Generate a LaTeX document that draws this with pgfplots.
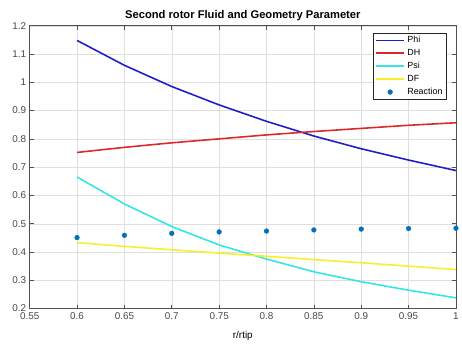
\documentclass[border=0pt]{standalone}
\usepackage{pgfplots}
\pgfplotsset{compat=1.18}
\usepackage{fontspec}
\setmainfont{Liberation Sans}
\definecolor{phic}{RGB}{30,30,200}
\definecolor{dhc}{RGB}{220,40,40}
\definecolor{psic}{RGB}{50,230,230}
\definecolor{dfc}{RGB}{245,240,40}
\definecolor{rc}{RGB}{0,114,189}
\definecolor{axc}{RGB}{38,38,38}
\pgfplotsset{
  linelegend/.style={legend image code/.code={\draw[##1, line width=1.8pt] (0pt,0pt) -- (29pt,0pt);}},
  dotlegend/.style={legend image code/.code={\fill[rc] (14.5pt,0pt) circle (2.4pt);}}}
\begin{document}
\begin{tikzpicture}
\begin{axis}[name=ax,
  scale only axis, width=431pt, height=286pt,
  xmin=0.55, xmax=1, ymin=0.2, ymax=1.2,
  xtick={0.55,0.6,...,1.0}, ytick={0.2,0.3,...,1.2},
  /pgf/number format/assume math mode=true,
  /pgf/number format/fixed, /pgf/number format/precision=2,
  tick label style={font=\fontsize{10}{11}\selectfont, text=axc!85},
  xticklabel style={yshift=-1pt},
  grid=major, major grid style={gray!25, line width=0.4pt},
  axis line style={axc!80, line width=0.6pt},
  tick style={axc!80, line width=0.6pt}, tick align=inside,
  major tick length=4pt,
  title={\textbf{Second rotor Fluid and Geometry Parameter}},
  title style={font=\fontsize{11.3}{13}\selectfont, yshift=-5pt},
  xlabel={r/rtip}, xlabel style={font=\fontsize{10}{11}\selectfont, yshift=-5pt},
  legend style={at={(0.977,0.975)}, anchor=north east, font=\fontsize{9}{10}\selectfont,
    draw=axc, inner sep=1.5pt, row sep=1.2pt},
  linelegend,
  legend cell align=left,
]
\addplot[phic, line width=1.6pt] coordinates {(0.6,1.148) (0.65,1.060) (0.7,0.985) (0.75,0.920) (0.8,0.862) (0.85,0.810) (0.9,0.765) (0.95,0.725) (1.0,0.688)};
\addlegendentry{Phi}
\addplot[dhc, line width=1.6pt] coordinates {(0.6,0.752) (0.65,0.770) (0.7,0.786) (0.75,0.800) (0.8,0.814) (0.85,0.826) (0.9,0.837) (0.95,0.848) (1.0,0.857)};
\addlegendentry{DH}
\addplot[psic, line width=1.6pt] coordinates {(0.6,0.665) (0.65,0.570) (0.7,0.490) (0.75,0.425) (0.8,0.375) (0.85,0.330) (0.9,0.295) (0.95,0.265) (1.0,0.238)};
\addlegendentry{Psi}
\addplot[dfc, line width=1.6pt] coordinates {(0.6,0.433) (0.65,0.420) (0.7,0.408) (0.75,0.396) (0.8,0.385) (0.85,0.373) (0.9,0.362) (0.95,0.350) (1.0,0.338)};
\addlegendentry{DF}
\addplot[only marks, mark=*, mark size=2.4pt, rc, dotlegend] coordinates {(0.6,0.451) (0.65,0.459) (0.7,0.466) (0.75,0.471) (0.8,0.474) (0.85,0.478) (0.9,0.481) (0.95,0.483) (1.0,0.484)};
\addlegendentry{Reaction}
\end{axis}
\path (ax.south west) ++(-30pt,-29pt) coordinate (bl);
\path (ax.north east) ++(1pt,26pt) coordinate (tr);
\path (bl) rectangle (tr);
\end{tikzpicture}
\end{document}
